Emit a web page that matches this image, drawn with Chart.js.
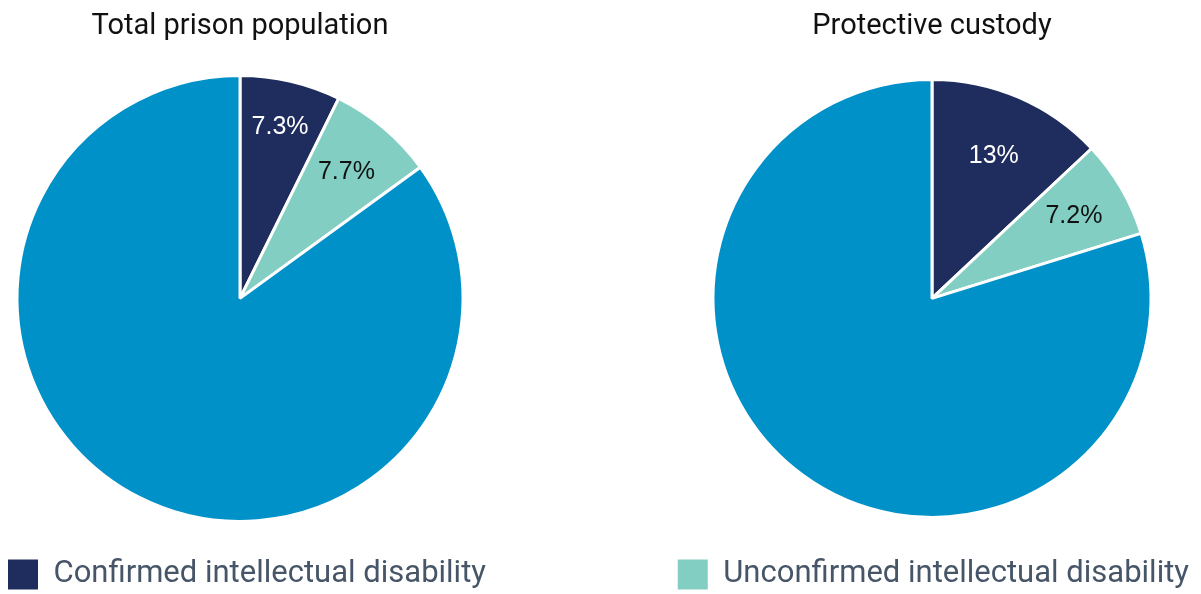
<!DOCTYPE html>
<html>
<head>
<meta charset="utf-8">
<script src="https://cdn.jsdelivr.net/npm/chart.js@4.4.1/dist/chart.umd.min.js"></script>
<style>
  html, body { margin: 0; padding: 0; background: #ffffff; }
  #wrap { position: relative; width: 1201px; height: 594px; }
  .pane { position: absolute; top: 0; height: 594px; }
  #left { left: 0; width: 600px; }
  #right { left: 600px; width: 601px; }
</style>
</head>
<body>
<div id="wrap">
  <div class="pane" id="left"><canvas id="c1"></canvas></div>
  <div class="pane" id="right"><canvas id="c2"></canvas></div>
</div>
<script>
// Shares of prisoners by intellectual disability status (%)
const categories = ['Confirmed intellectual disability', 'Unconfirmed intellectual disability', 'No intellectual disability'];
const totalPopulation = [7.3, 7.7, 85.0];
const protectiveCustody = [13, 7.2, 79.8];
const valueLabels1 = ['7.3%', '7.7%', ''];
const valueLabels2 = ['13%', '7.2%', ''];
const titles = ['Total prison population', 'Protective custody'];

const sliceColors = ['#1f2d5e', '#82cec3', '#0091c8'];
const labelColors = ['#ffffff', '#111111', '#ffffff'];

// Draws the percentage text inside each slice
const sliceLabels = {
  id: 'sliceLabels',
  afterDatasetsDraw(chart, args, opts) {
    const ctx = chart.ctx;
    const meta = chart.getDatasetMeta(0);
    ctx.save();
    ctx.font = '25px "Liberation Sans", Arial, sans-serif';
    ctx.textAlign = 'center';
    ctx.textBaseline = 'middle';
    meta.data.forEach((arc, i) => {
      const text = opts.texts[i];
      if (!text) return;
      const p = arc.getProps(['x', 'y', 'startAngle', 'endAngle', 'outerRadius'], true);
      const mid = (p.startAngle + p.endAngle) / 2;
      const d = p.outerRadius * opts.factors[i];
      ctx.fillStyle = labelColors[i];
      ctx.fillText(text, p.x + Math.cos(mid) * d, p.y + Math.sin(mid) * d);
    });
    ctx.restore();
  }
};

// Lets a left-aligned legend entry run past the chart area to the canvas edge
const wideLegend = {
  id: 'wideLegend',
  afterLayout(chart) {
    const lg = chart.legend;
    if (lg && lg.options.align === 'start') {
      lg.right = chart.width;
      lg.width = lg.right - lg.left;
    }
  }
};

// Legend swatches are plain filled squares, without the slice border
const defaultLabels = Chart.overrides.pie.plugins.legend.labels.generateLabels;
function swatchLabels(chart) {
  return defaultLabels(chart).map((item) => Object.assign(item, { lineWidth: 0 }));
}

function makePie(canvasId, values, title, texts, radius, padding, legendIndex, legendAlign, factors) {
  return new Chart(document.getElementById(canvasId), {
    type: 'pie',
    data: {
      labels: categories,
      datasets: [{
        data: values,
        backgroundColor: sliceColors,
        borderColor: '#ffffff',
        borderWidth: 3,
        hoverOffset: 0
      }]
    },
    options: {
      responsive: true,
      maintainAspectRatio: false,
      animation: false,
      radius: radius,
      layout: { padding: padding },
      plugins: {
        title: {
          display: true,
          text: title,
          color: '#111111',
          font: { family: 'Roboto, "Open Sans", sans-serif', size: 29, weight: 'normal' },
          padding: { top: 9, bottom: 0 }
        },
        legend: {
          display: true,
          position: 'bottom',
          align: legendAlign,
          labels: {
            boxWidth: 30,
            boxHeight: 30,
            color: '#465567',
            font: { family: 'Roboto, "Open Sans", sans-serif', size: 31 },
            padding: 6,
            generateLabels: swatchLabels,
            filter: (item) => item.index === legendIndex
          }
        },
        tooltip: { enabled: false },
        sliceLabels: { texts: texts, factors: factors }
      }
    },
    plugins: [sliceLabels, wideLegend]
  });
}

makePie('c1', totalPopulation, titles[0], valueLabels1, 223,
  { left: 2, right: 122, top: 0, bottom: -6 }, 0, 'start', [0.79, 0.74]);
makePie('c2', protectiveCustody, titles[1], valueLabels2, 219,
  { left: 69, right: 6, top: 0, bottom: -6 }, 1, 'end', [0.71, 0.75]);
</script>
</body>
</html>
